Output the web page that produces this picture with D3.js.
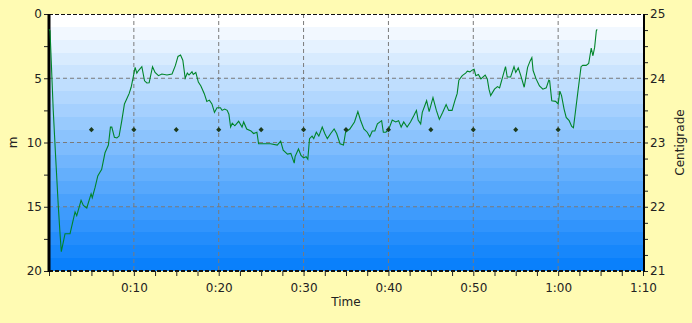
<!DOCTYPE html>
<html>
<head>
<style>
  body { margin: 0; background: #fffbb3; }
  text { font-family: "DejaVu Sans", sans-serif; font-size: 12px; fill: #222; }
</style>
<script src="https://d3js.org/d3.v7.min.js"></script>
</head>
<body>
<div id="chart"></div>
<script>
// depth profile (minutes, metres)
var diveTime = [0, 0.12, 0.5, 0.79, 1.1, 1.3, 1.45, 1.89, 2.48, 3.07, 3.27, 3.78, 4.05, 4.45, 4.96, 5.1, 5.43, 5.75,
  6.02, 6.2, 6.6, 7.0, 7.24, 7.4, 7.71, 8.0, 8.26, 8.58, 8.89, 9.17, 9.44, 9.68, 9.96, 10.15, 10.35, 10.55, 10.94,
  11.26, 11.53, 11.8, 12.2, 12.5, 12.9, 13.3, 13.9, 14.5, 14.9, 15.2, 15.5, 15.77, 16.05, 16.3, 16.5, 16.85, 17.0,
  17.3, 17.6, 17.9, 18.3, 18.6, 18.9, 19.2, 19.5, 19.8, 20.2, 20.4, 20.7, 21.0, 21.2, 21.4, 21.6, 21.9, 22.35,
  22.75, 22.94, 23.3, 23.8, 24.1, 24.5, 24.7, 25.3, 26.1, 26.9, 27.3, 27.6, 28.1, 28.5, 28.9, 29.0, 29.4, 29.7,
  30.0, 30.3, 30.5, 30.7, 31.0, 31.2, 31.5, 31.8, 32.2, 32.5, 32.8, 33.2, 33.6, 33.9, 34.3, 34.7, 34.95, 35.45,
  36.0, 36.4, 36.7, 37.1, 37.5, 37.8, 38.1, 38.4, 38.7, 39.2, 39.4, 39.7, 40.05, 40.45, 40.85, 41.2, 41.5, 41.8,
  42.2, 42.6, 43.0, 43.3, 43.5, 43.8, 43.99, 44.5, 44.8, 45.25, 45.65, 46.0, 46.4, 46.8, 47.1, 47.5, 47.85, 48.1,
  48.3, 48.7, 49.1, 49.3, 49.6, 49.9, 50.1, 50.3, 50.6, 50.9, 51.4, 51.65, 51.85, 52.05, 52.5, 52.85, 53.1, 53.5,
  53.8, 54.0, 54.4, 54.8, 55.0, 55.3, 55.6, 56.0, 56.4, 56.7, 56.9, 57.05, 57.4, 57.8, 58.2, 58.6, 58.9, 59.0,
  59.25, 59.7, 60.0, 60.2, 60.4, 60.7, 60.95, 61.3, 61.6, 61.8, 62.0, 62.3, 62.7, 62.9, 63.3, 63.6, 63.75, 63.9,
  64.1, 64.3, 64.5, 64.6];
var diveDepth = [1.2, 1.3, 7.5, 11.2, 15.0, 17.1, 18.5, 17.1, 17.1, 15.4, 15.7, 14.5, 14.9, 15.1, 14.0, 14.3, 13.5, 12.6,
  12.3, 12.1, 10.8, 10.2, 8.8, 8.8, 9.6, 9.65, 9.5, 8.3, 7.0, 6.6, 6.2, 5.7, 4.8, 4.15, 4.6, 4.4, 4.1,
  5.2, 5.37, 5.35, 4.1, 4.55, 4.8, 4.67, 4.75, 4.67, 4.0, 3.3, 3.2, 3.6, 5.0, 4.6, 4.75, 4.5, 4.7,
  4.55, 5.3, 5.6, 6.2, 6.8, 6.7, 7.0, 7.65, 7.3, 7.3, 7.5, 7.4, 7.5, 7.8, 8.8, 8.5, 8.7, 8.35,
  8.8, 8.4, 8.95, 9.1, 9.3, 9.2, 10.1, 10.1, 10.1, 10.2, 9.9, 10.6, 10.9, 10.85, 11.6, 11.1, 10.5, 11.0,
  11.2, 11.1, 11.3, 9.7, 9.5, 9.7, 9.2, 9.5, 8.8, 9.3, 9.7, 9.3, 8.95, 9.3, 10.1, 10.2, 9.2, 8.95,
  8.4, 7.6, 8.25, 8.95, 9.2, 9.55, 9.1, 9.1, 8.55, 8.3, 9.2, 9.2, 8.95, 8.25, 8.4, 8.3, 8.8, 8.4,
  8.8, 8.4, 7.9, 7.5, 8.25, 8.55, 7.65, 6.75, 7.6, 6.5, 7.5, 8.2, 7.65, 7.05, 7.5, 7.5, 6.7, 6.2,
  5.15, 4.8, 4.6, 4.45, 4.5, 4.35, 4.3, 4.8, 4.7, 5.05, 4.75, 5.05, 5.85, 6.35, 5.85, 5.65, 5.75, 4.8,
  4.1, 4.9, 4.9, 4.1, 4.55, 4.2, 4.8, 5.7, 4.15, 3.65, 3.4, 4.4, 5.05, 5.6, 5.85, 5.75, 5.15, 5.2,
  6.75, 6.8, 7.0, 6.0, 6.35, 7.4, 8.05, 8.3, 8.75, 8.85, 7.8, 6.2, 4.1, 4.0, 4.0, 3.85, 3.25, 2.65,
  3.25, 2.6, 1.3, 1.2];

// water temperature samples (minutes, centigrade)
var tempTime = [5, 10, 15, 20, 25, 30, 35, 40, 45, 50, 55, 60];
var tempValue = [23.2, 23.2, 23.2, 23.2, 23.2, 23.2, 23.2, 23.2, 23.2, 23.2, 23.2, 23.2];

var timeTicks = [10, 20, 30, 40, 50, 60, 70];
var depthTicks = [0, 5, 10, 15, 20];
var tempTicks = [21, 22, 23, 24, 25];

var width = 692, height = 323;
var margin = {top: 14, right: 49, bottom: 52, left: 49};
var w = width - margin.left - margin.right;
var h = height - margin.top - margin.bottom;

var svg = d3.select("#chart").append("svg")
    .attr("width", width)
    .attr("height", height)
    .style("display", "block");

var x = d3.scaleLinear().domain([0, 70]).range([0, w]);
var y = d3.scaleLinear().domain([0, 20]).range([0, h]);
var yT = d3.scaleLinear().domain([21, 25]).range([h, 0]);

// stepped white to blue background
var defs = svg.append("defs");
var grad = defs.append("linearGradient").attr("id", "bg")
    .attr("x1", 0).attr("y1", 0).attr("x2", 0).attr("y2", 1);
var steps = 20;
var col = d3.interpolateRgb("#ffffff", "#0a80fb");
for (var i = 0; i < steps; i++) {
  var c = col(i / (steps - 1));
  grad.append("stop").attr("offset", (i / steps)).attr("stop-color", c);
  grad.append("stop").attr("offset", ((i + 1) / steps)).attr("stop-color", c);
}

var g = svg.append("g").attr("transform", "translate(" + margin.left + "," + margin.top + ")");

g.append("rect").attr("width", w).attr("height", h).attr("fill", "url(#bg)");

// grid
g.selectAll(".vgrid").data(timeTicks.slice(0, -1)).enter().append("line")
    .attr("x1", d => x(d)).attr("x2", d => x(d)).attr("y1", 0).attr("y2", h)
    .attr("stroke", "#7a7a7a").attr("stroke-dasharray", "4,3");
g.selectAll(".hgrid").data([5, 10, 15]).enter().append("line")
    .attr("x1", 0).attr("x2", w).attr("y1", d => y(d)).attr("y2", d => y(d))
    .attr("stroke", "#7a7a7a").attr("stroke-dasharray", "4,3");

// top and bottom borders
g.append("line").attr("x1", 0).attr("x2", w).attr("y1", 0.5).attr("y2", 0.5)
    .attr("stroke", "#111").attr("stroke-dasharray", "4,2");
g.append("line").attr("x1", 0).attr("x2", w).attr("y1", h).attr("y2", h)
    .attr("stroke", "#111").attr("stroke-width", 2).attr("stroke-dasharray", "4,2");

// axes
var xAxis = d3.axisBottom(x).tickValues(d3.range(0, 70.1, 2.5)).tickSize(5)
    .tickFormat(d => timeTicks.indexOf(d) >= 0 ? Math.floor(d / 60) + ":" + d3.format("02")(d % 60) : "");
var gx = g.append("g").attr("transform", "translate(0," + h + ")").call(xAxis);
gx.select(".domain").remove();
gx.selectAll("text").attr("dy", "1.05em");

var yAxis = d3.axisLeft(y).tickValues(d3.range(0, 20.1, 2.5)).tickSize(5)
    .tickFormat(d => depthTicks.indexOf(d) >= 0 ? d : "");
var gy = g.append("g").call(yAxis);
gy.select(".domain").remove();
gy.selectAll("text").attr("x", -7);

var yAxisR = d3.axisRight(yT).tickValues(d3.range(21, 25.01, 0.25)).tickSize(5)
    .tickFormat(d => tempTicks.indexOf(d) >= 0 ? d : "");
var gr = g.append("g").attr("transform", "translate(" + w + ",0)").call(yAxisR);
gr.select(".domain").remove();
gr.selectAll("text").attr("x", 7);

svg.selectAll(".tick line").attr("stroke", "#222");
svg.selectAll(".tick text").style("font-family", "DejaVu Sans, sans-serif").style("font-size", "12px").attr("fill", "#1a1a1a");

g.append("line").attr("x1", 0).attr("x2", 0).attr("y1", 0).attr("y2", h + 1)
    .attr("stroke", "#000").attr("stroke-width", 3);
g.append("line").attr("x1", w + 1).attr("x2", w + 1).attr("y1", 0).attr("y2", h + 1)
    .attr("stroke", "#000").attr("stroke-width", 2);

// depth line
var dive = diveTime.map((t, i) => [t, diveDepth[i]]);
g.append("path").datum(dive)
    .attr("fill", "none").attr("stroke", "#00852a").attr("stroke-width", 1.1)
    .attr("d", d3.line().x(d => x(d[0])).y(d => y(d[1])));

// temperature markers
g.selectAll(".temp").data(tempTime).enter().append("path")
    .attr("transform", (d, i) => "translate(" + x(d) + "," + yT(tempValue[i]) + ") rotate(45)")
    .attr("d", d3.symbol().type(d3.symbolSquare).size(13))
    .attr("fill", "#1c3a1c");

// titles
svg.append("text").attr("x", margin.left + w / 2).attr("y", 306).attr("text-anchor", "middle").text("Time");
svg.append("text").attr("transform", "translate(17," + (margin.top + h / 2) + ") rotate(-90)")
    .attr("text-anchor", "middle").text("m");
svg.append("text").attr("transform", "translate(684," + (margin.top + h / 2) + ") rotate(-90)")
    .attr("text-anchor", "middle").text("Centigrade");
</script>
</body>
</html>
